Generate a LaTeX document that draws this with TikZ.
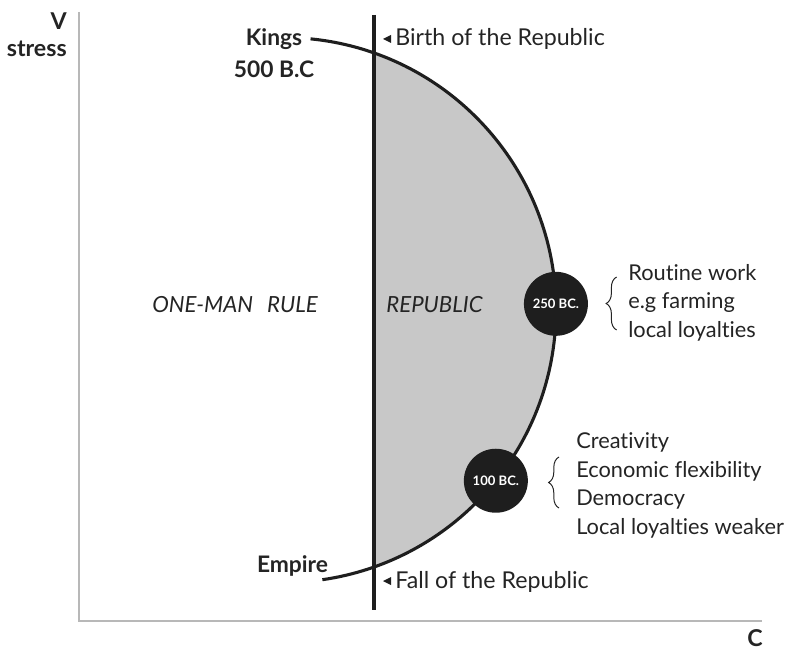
\documentclass[tikz,border=0pt]{standalone}
\usepackage{fontspec}
\setmainfont{Lato}[Ligatures=NoCommon]
\usepackage{tikz}
\usetikzlibrary{positioning, calc, decorations.pathreplacing}
\definecolor{inkDark}{HTML}{1E1E1E}
\definecolor{textDark}{HTML}{242424}
\definecolor{axisGray}{HTML}{B8B8B8}
\definecolor{shadeGray}{HTML}{C8C8C8}

\begin{document}
\begin{tikzpicture}[
    axisLine/.style={draw=axisGray, line width=1.3pt},
    timeLine/.style={draw=inkDark, line width=2.2pt},
    eraDot/.style={circle, fill=inkDark, minimum size=1.6cm, inner sep=0pt, text=white, font=\fontsize{9.3}{10}\selectfont\bfseries},
    axisLabel/.style={align=right, anchor=east, inner sep=0pt, text=textDark, font=\fontsize{16.5}{19}\selectfont\bfseries},
    stageLabel/.style={align=center, inner sep=0pt, text=textDark, font=\fontsize{16.2}{22.7}\selectfont\bfseries},
    ruleLabel/.style={inner sep=0pt, text=textDark, font=\fontsize{15.8}{19}\selectfont\itshape},
    eventLabel/.style={anchor=base west, inner sep=0pt, text=textDark, font=\fontsize{16.5}{19}\selectfont},
    traitList/.style={align=left, anchor=west, inner sep=0pt, text=textDark, font=\fontsize{15.5}{20.2}\selectfont},
    traitBrace/.style={draw=textDark, line width=0.7pt, decorate, decoration={brace, amplitude=0.26cm}},
    markTip/.style={fill=inkDark},
]
\useasboundingbox (-1.975,-0.75) rectangle (17.775,15.525);

\coordinate (origin) at (0,0);
\coordinate (arcCenter) at (5.1125,7.775);
\coordinate (lineTop) at (7.375,15.15);
\coordinate (lineBottom) at (7.375,0.275);

\begin{scope}
    \clip (lineBottom) rectangle (17,15.5);
    \fill[shadeGray] (arcCenter) circle (6.8125);
\end{scope}

\draw[axisLine] (0,15.225) -- (origin) -- (17.075,0);
\node[axisLabel] (vLabel) at (-0.3,14.65) {V\\stress};
\node[axisLabel, anchor=center] (cLabel) at (16.9,-0.44) {C};

\draw[timeLine] ([shift={(84.3:6.8125)}]arcCenter) arc[start angle=84.3, end angle=-81.8, radius=6.8125];
\draw[timeLine] (lineTop) -- (lineBottom);

\node[eraDot] (bc250) at ([shift={(1.3:6.8125)}]arcCenter) {250 BC.};
\node[eraDot] (bc100) at ([shift={(-38.8:6.8125)}]arcCenter) {100 BC.};

\node[stageLabel] (kings) at (4.875,14.19) {Kings\\500 B.C};
\node[stageLabel] (empire) at (5.3375,1.3875) {Empire};

\node[ruleLabel] (oneMan) at (3.9,7.9) {ONE-MAN\ \ \,RULE};
\node[ruleLabel] (republic) at (8.8875,7.9) {REPUBLIC};

\node[eventLabel] (birth) at (7.9,14.375) {Birth of the Republic};
\node[eventLabel] (fall) at (7.9,0.825) {Fall of the Republic};
\fill[markTip] ([shift={(-0.3,0.175)}]birth.base west) -- ++(0.2,0.1) -- ++(0,-0.2) -- cycle;
\fill[markTip] ([shift={(-0.3,0.175)}]fall.base west) -- ++(0.2,0.1) -- ++(0,-0.2) -- cycle;

\node[traitList] (traits250) at (13.725,7.9625) {Routine work\\e.g farming\\local loyalties};
\draw[traitBrace] (13.44,7.275) -- (13.44,8.6);

\node[traitList] (traits100) at (12.425,3.3875) {Creativity\\Economic flexibility\\Democracy\\Local loyalties weaker};
\draw[traitBrace] (12.0,2.825) -- (12.0,4.1);
\end{tikzpicture}
\end{document}
